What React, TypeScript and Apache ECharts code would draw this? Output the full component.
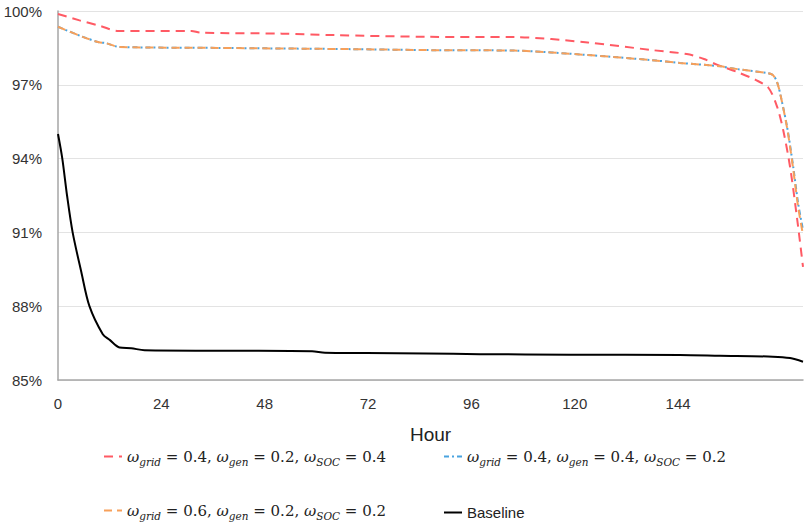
import React, { useEffect, useRef } from "react";
import * as echarts from "echarts";

// ---- data ----
const xTickLabels = [0, 24, 48, 72, 96, 120, 144];
const yTicks = [85, 88, 91, 94, 97, 100];

const gridW = [0.4, 0.4, 0.6];
const genW = [0.2, 0.4, 0.2];
const socW = [0.4, 0.2, 0.2];

const redHours = [0, 5, 10, 14, 31, 33, 52, 64, 86, 106, 123, 138, 146, 150, 153, 158, 162, 165, 167, 168.4, 170, 171.6, 173];
const redValues = [99.88, 99.62, 99.38, 99.19, 99.19, 99.12, 99.08, 99.02, 98.95, 98.94, 98.72, 98.41, 98.25, 98.05, 97.82, 97.5, 97.2, 96.87, 96.1, 95.16, 93.66, 91.6, 89.6];

const blueHours = [0, 5.6, 9.5, 11, 14.2, 37, 68, 86, 106, 123, 138, 144.4, 154, 156, 164.6, 166, 167, 168, 169.4, 170.7, 171.9, 173];
const blueValues = [99.36, 98.96, 98.73, 98.7, 98.54, 98.5, 98.45, 98.41, 98.39, 98.21, 98.0, 97.89, 97.75, 97.68, 97.48, 97.4, 97.1, 96.4, 95.2, 93.7, 92.15, 91.1];

const orangeHours = [0, 5.6, 9.5, 11, 14.2, 37, 68, 86, 106, 123, 138, 144.4, 154, 156, 164.6, 166, 167, 168, 169.4, 170.7, 171.9, 173];
const orangeValues = [99.36, 98.96, 98.73, 98.7, 98.54, 98.5, 98.45, 98.41, 98.39, 98.21, 98.0, 97.89, 97.75, 97.68, 97.48, 97.4, 97.1, 96.4, 95.15, 93.6, 92.0, 90.9];

const baseHours = [0, 1, 2.1, 3.4, 5.4, 7.3, 10.4, 12, 14.3, 17, 20.1, 41.4, 59, 62, 71.6, 85.5, 98, 119, 144.4, 153.7, 166, 170, 173];
const baseValues = [95.0, 94.0, 92.5, 91.0, 89.4, 88.0, 86.86, 86.63, 86.32, 86.29, 86.21, 86.19, 86.17, 86.11, 86.1, 86.08, 86.05, 86.03, 86.02, 85.99, 85.95, 85.89, 85.74];

const seriesNames = [
  `ω_grid = ${gridW[0]}, ω_gen = ${genW[0]}, ω_SOC = ${socW[0]}`,
  `ω_grid = ${gridW[1]}, ω_gen = ${genW[1]}, ω_SOC = ${socW[1]}`,
  `ω_grid = ${gridW[2]}, ω_gen = ${genW[2]}, ω_SOC = ${socW[2]}`,
  "Baseline",
];

const richLabel = (i: number) =>
  `{w|ω}{s|grid}{t| = ${gridW[i]}, }{w|ω}{s|gen}{t| = ${genW[i]}, }{w|ω}{s|SOC}{t| = ${socW[i]}}`;

const zip = (xs: number[], ys: number[]) => xs.map((x, i) => [x, ys[i]]);

const SANS = "'Liberation Sans', Arial, sans-serif";
const SERIF = "'DejaVu Serif', 'Liberation Serif', serif";

export default function App() {
  const ref = useRef<HTMLDivElement>(null);
  useEffect(() => {
    if (!ref.current) return;
    const chart = echarts.init(ref.current, undefined, { renderer: "svg" });
    const rich = {
      w: { fontFamily: SERIF, fontStyle: "italic", fontSize: 15, color: "#222", lineHeight: 22, verticalAlign: "middle" },
      s: { fontFamily: SERIF, fontStyle: "italic", fontSize: 10.5, color: "#222", lineHeight: 14, verticalAlign: "bottom" },
      t: { fontFamily: SERIF, fontSize: 15, color: "#222", lineHeight: 22, verticalAlign: "middle" },
    };
    const legendCommon = {
      itemWidth: 18,
      itemHeight: 10,
      padding: 0,
      itemStyle: { opacity: 0 },
      textStyle: { rich, fontFamily: SANS, fontSize: 15, color: "#222" },
    };
    const formatter = (name: string) => {
      const idx = seriesNames.indexOf(name);
      return idx >= 0 && idx < 3 ? richLabel(idx) : name;
    };
    chart.setOption({
      animation: false,
      backgroundColor: "#ffffff",
      grid: { left: 58, right: 6, top: 11, bottom: 142, containLabel: false },
      legend: [
        { ...legendCommon, data: [seriesNames[0]], left: 103, top: 449, formatter },
        { ...legendCommon, data: [seriesNames[1]], left: 443, top: 449, formatter },
        { ...legendCommon, data: [seriesNames[2]], left: 103, top: 503, formatter },
        { ...legendCommon, data: [seriesNames[3]], left: 443, top: 505, formatter },
      ],
      xAxis: {
        type: "value",
        min: 0,
        max: 173,
        interval: 24,
        name: "Hour",
        nameLocation: "middle",
        nameGap: 45,
        nameTextStyle: { fontFamily: SANS, fontSize: 19, color: "#222" },
        axisLine: { show: true, lineStyle: { color: "#a6a6a6", width: 1.5 } },
        axisTick: { show: false },
        splitLine: { show: false },
        axisLabel: {
          fontFamily: SANS,
          fontSize: 15,
          color: "#333",
          margin: 16,
          showMaxLabel: false,
          formatter: (v: number) => (xTickLabels.includes(v) ? String(v) : ""),
        },
      },
      yAxis: {
        type: "value",
        min: yTicks[0],
        max: yTicks[yTicks.length - 1],
        interval: 3,
        axisLine: { show: true, lineStyle: { color: "#a6a6a6", width: 1.5 } },
        axisTick: { show: false },
        splitLine: { show: true, lineStyle: { color: "#e3e3e3", width: 1 } },
        axisLabel: {
          fontFamily: SANS,
          fontSize: 15,
          color: "#333",
          margin: 16,
          formatter: (v: number) => `${v}%`,
        },
      },
      series: [
        {
          name: seriesNames[0],
          type: "line",
          data: zip(redHours, redValues),
          symbol: "none",
          smooth: 0.3,
          color: "#ff5a64",
          lineStyle: { color: "#ff5a64", width: 2, type: [9, 6] },
          z: 3,
        },
        {
          name: seriesNames[1],
          type: "line",
          data: zip(blueHours, blueValues),
          symbol: "none",
          smooth: 0.3,
          color: "#4aa3df",
          lineStyle: { color: "#4aa3df", width: 2, type: [5, 3, 2, 3] },
          z: 2,
        },
        {
          name: seriesNames[2],
          type: "line",
          data: zip(orangeHours, orangeValues),
          symbol: "none",
          smooth: 0.3,
          color: "#f7a05a",
          lineStyle: { color: "#f7a05a", width: 2, type: [8, 5] },
          z: 3,
        },
        {
          name: seriesNames[3],
          type: "line",
          data: zip(baseHours, baseValues),
          symbol: "none",
          smooth: 0.3,
          color: "#000000",
          lineStyle: { color: "#000000", width: 2 },
          z: 4,
        },
      ],
    });
    return () => chart.dispose();
  }, []);
  return (
    <div
      ref={ref}
      style={{ position: "fixed", left: 0, top: 0, width: 809, height: 522, background: "#fff" }}
    />
  );
}
